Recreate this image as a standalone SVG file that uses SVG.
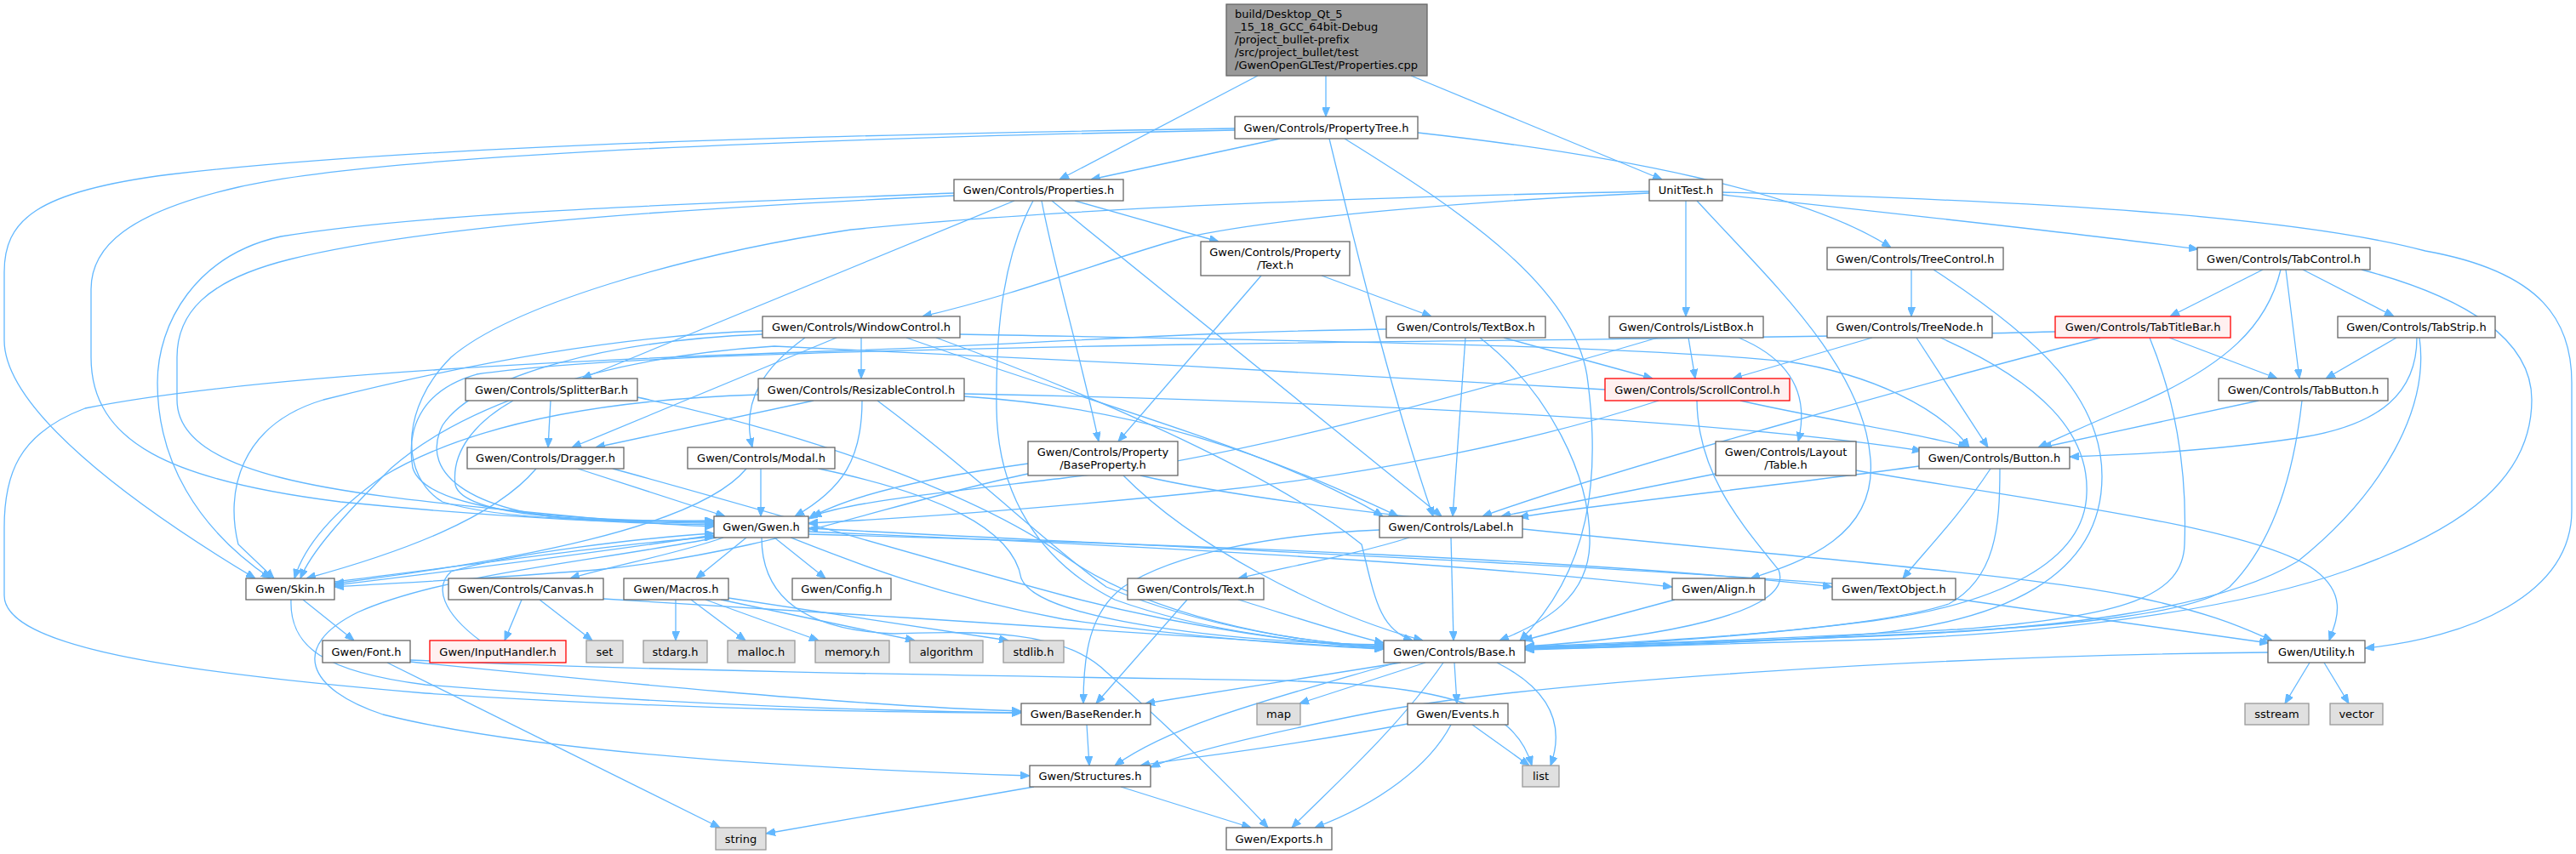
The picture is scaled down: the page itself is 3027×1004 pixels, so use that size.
<svg xmlns="http://www.w3.org/2000/svg" width="3027" height="1004" viewBox="0 0 3027 1004">
<defs>
<marker id="a" viewBox="0 0 11 9" refX="11" refY="4.5" markerWidth="11" markerHeight="9" markerUnits="userSpaceOnUse" orient="auto">
<path d="M0,0 L11,4.5 L0,9 z" fill="#63b8ff" stroke="#63b8ff" stroke-width="1"/>
</marker>
</defs>
<style>
.e path{fill:none;stroke:#63b8ff;stroke-width:1.3;marker-end:url(#a)}
.n rect{fill:#ffffff;stroke:#666666;stroke-width:1.3}
.m rect{fill:#999999;stroke:#666666;stroke-width:1.3}
.r rect{fill:#fff0f0;stroke:#ff0000;stroke-width:1.3}
.s rect{fill:#e0e0e0;stroke:#999999;stroke-width:1.3}
text{font-family:"DejaVu Sans",sans-serif;font-size:13px;fill:#000000;text-anchor:middle}
.m text{text-anchor:start}
</style>
<rect x="0" y="0" width="3027" height="1004" fill="#ffffff"/>
<g id="edges" class="e">
<path d="M1558,89 L1558,137"/>
<path d="M1478,89 L1245,211"/>
<path d="M1658,89 L1953,211"/>
<path d="M1504,163 L1282,211"/>
<path d="M1666,156 C1900,182 2120,225 2222,291"/>
<path d="M1562,163 C1600,320 1640,480 1684,607"/>
<path d="M1580,163 C1720,250 1855,340 1866,450 C1880,560 1870,670 1786,753"/>
<path d="M1451,151 C1000,158 500,170 200,205 C40,225 5,260 5,320 L5,400 C5,480 150,590 300,680"/>
<path d="M1451,153 C1000,162 450,180 280,220 C150,250 107,290 107,340 L107,420 C107,520 200,565 400,590 C600,610 760,616 839,617"/>
<path d="M1121,227 C800,240 500,250 330,278 C230,300 185,380 185,450 C185,540 230,620 318,680"/>
<path d="M1121,230 C800,245 500,265 340,305 C240,330 208,370 208,420 L208,470 C208,560 400,580 600,600 C720,612 800,618 839,619"/>
<path d="M1192,236 L684,445"/>
<path d="M1214,236 C1180,300 1170,380 1171,480 C1172,580 1220,660 1310,705 C1420,745 1560,758 1626,761"/>
<path d="M1224,236 C1240,320 1270,420 1291,519"/>
<path d="M1236,236 L1694,607"/>
<path d="M1263,236 L1432,284"/>
<path d="M1938,225 C1700,230 1300,240 1000,270 C800,300 600,360 530,420 C470,480 470,560 520,590 C600,615 760,612 839,612"/>
<path d="M1938,227 C1750,235 1500,255 1390,280 C1300,305 1200,345 1084,372"/>
<path d="M1981,236 L1981,372"/>
<path d="M1994,236 C2080,330 2190,430 2198,540 C2205,630 2120,660 2057,680"/>
<path d="M2024,229 C2200,248 2450,275 2583,293"/>
<path d="M2024,226 C2400,236 2700,255 2850,295 C2990,320 3022,380 3022,450 L3022,600 C3022,700 2900,750 2779,762"/>
<path d="M1482,324 L1314,519"/>
<path d="M1553,324 L1682,372"/>
<path d="M2246,317 L2246,372"/>
<path d="M2272,317 C2400,400 2470,470 2470,560 C2470,680 2350,730 2200,745 C2000,760 1850,762 1792,763"/>
<path d="M2659,317 L2550,372"/>
<path d="M2680,317 C2665,380 2620,430 2500,480 C2450,500 2420,515 2395,526"/>
<path d="M2686,317 L2702,445"/>
<path d="M2706,317 L2813,372"/>
<path d="M2775,317 C2900,350 2975,400 2975,470 C2975,560 2900,620 2760,670 C2620,720 2400,745 2200,752 C2000,758 1850,762 1792,764"/>
<path d="M896,389 C700,395 500,440 380,470 C280,500 265,580 280,640 L322,680"/>
<path d="M896,393 C720,400 560,440 520,500 C490,560 560,605 700,612 C760,614 800,615 839,615"/>
<path d="M946,397 C900,430 870,470 884,526"/>
<path d="M983,397 L672,526"/>
<path d="M1012,397 L1012,445"/>
<path d="M1065,397 C1300,480 1500,530 1625,607"/>
<path d="M1100,397 C1300,470 1500,560 1600,640 C1615,700 1620,740 1660,753"/>
<path d="M1128,393 C1500,400 1900,405 2100,425 C2200,440 2280,480 2314,526"/>
<path d="M1629,387 C1400,390 1200,405 1000,412 C700,422 300,440 100,480 C20,510 5,560 5,620 L5,700 C5,760 200,790 500,815 C800,835 1100,838 1200,838"/>
<path d="M1722,397 L1707,607"/>
<path d="M1739,397 C1820,460 1870,560 1868,640 C1866,700 1820,730 1762,753"/>
<path d="M1767,397 L1942,445"/>
<path d="M1948,397 C1700,470 1450,540 1250,562 C1100,580 1000,590 954,607"/>
<path d="M1984,397 L1992,445"/>
<path d="M2043,397 C2110,425 2125,470 2113,519"/>
<path d="M2200,397 L2036,445"/>
<path d="M2252,397 L2336,526"/>
<path d="M2280,397 C2400,450 2455,510 2452,580 C2450,660 2350,710 2200,730 C2000,755 1850,760 1792,761"/>
<path d="M2415,390 C2100,398 1700,400 1400,405 C1000,412 700,420 560,440 C490,460 478,510 485,550 C500,600 650,612 839,613"/>
<path d="M2468,397 C2300,440 1900,550 1742,607"/>
<path d="M2526,397 C2560,480 2570,560 2567,640 C2565,700 2500,725 2300,740 C2000,755 1850,760 1792,760"/>
<path d="M2549,397 L2676,445"/>
<path d="M2816,397 L2733,445"/>
<path d="M2840,397 C2840,460 2800,500 2700,515 C2600,530 2500,535 2432,537"/>
<path d="M2843,397 C2855,480 2800,580 2700,660 C2600,720 2400,740 2200,748 C2000,756 1850,761 1792,762"/>
<path d="M2654,471 L2400,526"/>
<path d="M2705,471 C2695,560 2670,640 2620,690 C2580,720 2450,735 2250,745 C2050,755 1850,762 1792,762"/>
<path d="M603,471 C560,495 530,530 535,570 C545,610 700,612 839,614"/>
<path d="M647,471 L644,526"/>
<path d="M749,467 C950,510 1150,580 1260,660 C1350,720 1500,755 1626,760"/>
<path d="M630,551 C580,610 470,650 360,680"/>
<path d="M679,551 L852,607"/>
<path d="M720,551 C900,600 1100,660 1250,700 C1400,740 1550,758 1626,762"/>
<path d="M891,464 C700,470 550,500 450,560 C380,610 355,650 346,680"/>
<path d="M956,471 L700,526"/>
<path d="M1013,471 C1013,540 990,575 934,607"/>
<path d="M1031,471 C1150,560 1230,640 1300,690 C1420,740 1550,757 1626,760"/>
<path d="M1133,463 C1500,470 2000,490 2258,530"/>
<path d="M1133,466 C1350,480 1500,540 1643,607"/>
<path d="M877,551 C820,620 600,660 393,686"/>
<path d="M894,551 L894,607"/>
<path d="M962,551 C1100,580 1190,620 1200,680 C1220,730 1450,755 1626,758"/>
<path d="M1886,458 C1600,440 1200,420 910,407 C700,420 540,480 460,550 C400,610 365,650 353,680"/>
<path d="M1949,471 C1800,520 1600,560 1400,580 C1200,600 1050,610 950,615"/>
<path d="M1994,471 C1995,560 2050,620 2090,670 C2110,720 1950,750 1792,760"/>
<path d="M2045,471 C2150,495 2260,510 2312,526"/>
<path d="M1208,545 C1100,560 1000,580 950,610"/>
<path d="M1208,557 C1050,590 900,650 700,670 C550,682 450,686 393,690"/>
<path d="M1320,559 C1400,640 1550,720 1672,753"/>
<path d="M1340,559 C1600,620 2300,660 2500,700 C2600,720 2640,740 2670,753"/>
<path d="M2016,557 L1764,607"/>
<path d="M2181,553 C2400,590 2650,620 2720,670 C2760,700 2745,730 2737,753"/>
<path d="M2339,551 C2300,610 2260,650 2236,680"/>
<path d="M2350,551 C2350,620 2345,680 2290,710 C2200,740 1950,755 1792,760"/>
<path d="M2255,548 C2100,570 1900,590 1785,608"/>
<path d="M1621,623 C1500,628 1380,650 1320,690 C1280,720 1273,770 1273,827"/>
<path d="M1656,632 C1600,650 1520,665 1455,680"/>
<path d="M1705,632 L1708,753"/>
<path d="M839,629 C700,650 500,675 393,688"/>
<path d="M393,684 C550,665 700,642 839,631"/>
<path d="M850,632 C800,650 720,665 670,680"/>
<path d="M877,632 L818,680"/>
<path d="M910,632 L970,680"/>
<path d="M895,632 C895,690 930,740 1050,745 C1150,742 1250,740 1300,790 C1380,860 1450,930 1490,973"/>
<path d="M929,632 C1000,660 1100,700 1250,728 C1400,750 1550,760 1626,763"/>
<path d="M950,625 C1300,640 1700,660 1965,690"/>
<path d="M950,628 C1400,640 1900,660 2153,690"/>
<path d="M842,632 C700,660 520,675 420,720 C340,760 360,810 450,840 C650,890 1000,905 1210,912"/>
<path d="M342,705 C340,760 380,790 500,805 C800,830 1050,836 1200,838"/>
<path d="M356,705 L416,753"/>
<path d="M613,705 L593,753"/>
<path d="M634,705 L696,753"/>
<path d="M709,704 C1000,720 1400,750 1626,763"/>
<path d="M564,753 C520,720 510,690 530,672 C600,650 760,632 839,627"/>
<path d="M455,779 L846,973"/>
<path d="M482,776 C800,790 1200,795 1500,800 C1700,805 1780,830 1800,900"/>
<path d="M482,778 C700,800 1000,830 1200,836"/>
<path d="M794,705 L794,753"/>
<path d="M812,705 L876,753"/>
<path d="M829,705 L962,753"/>
<path d="M847,705 L1075,753"/>
<path d="M856,703 L1185,753"/>
<path d="M1395,705 L1288,827"/>
<path d="M1455,705 C1520,725 1580,745 1626,756"/>
<path d="M1968,705 L1790,753"/>
<path d="M2153,686 C1800,660 1300,640 950,621"/>
<path d="M2297,704 L2666,756"/>
<path d="M1646,779 L1346,827"/>
<path d="M1675,779 L1527,827"/>
<path d="M1696,779 C1640,860 1560,930 1518,973"/>
<path d="M1709,779 L1712,827"/>
<path d="M1759,779 C1820,810 1840,850 1822,900"/>
<path d="M1641,779 C1500,820 1380,850 1310,900"/>
<path d="M1654,851 C1500,880 1400,890 1340,900"/>
<path d="M1730,852 L1797,900"/>
<path d="M1705,852 C1680,900 1620,945 1545,973"/>
<path d="M2665,767 C2300,770 1800,800 1600,840 C1450,870 1380,890 1352,902"/>
<path d="M2714,779 L2685,827"/>
<path d="M2731,779 L2760,827"/>
<path d="M1277,852 L1280,900"/>
<path d="M1215,925 L900,980"/>
<path d="M1317,925 L1470,973"/>
</g>
<g id="main" class="m"><rect x="1441" y="5" width="236" height="84"/><text x="1451" y="21">build/Desktop_Qt_5</text><text x="1451" y="36">_15_18_GCC_64bit-Debug</text><text x="1451" y="51">/project_bullet-prefix</text><text x="1451" y="66">/src/project_bullet/test</text><text x="1451" y="81">/GwenOpenGLTest/Properties.cpp</text></g>
<g id="ptree" class="n"><rect x="1451" y="137" width="215" height="26"/><text x="1558.5" y="154.5">Gwen/Controls/PropertyTree.h</text></g>
<g id="props" class="n"><rect x="1121" y="211" width="199" height="25"/><text x="1220.5" y="228">Gwen/Controls/Properties.h</text></g>
<g id="unittest" class="n"><rect x="1938" y="211" width="86" height="25"/><text x="1981" y="228">UnitTest.h</text></g>
<g id="ptext" class="n"><rect x="1411" y="284" width="175" height="40"/><text x="1498.5" y="300.5">Gwen/Controls/Property</text><text x="1498.5" y="315.5">/Text.h</text></g>
<g id="treectl" class="n"><rect x="2147" y="291" width="207" height="26"/><text x="2250.5" y="308.5">Gwen/Controls/TreeControl.h</text></g>
<g id="tabctl" class="n"><rect x="2582" y="291" width="203" height="26"/><text x="2683.5" y="308.5">Gwen/Controls/TabControl.h</text></g>
<g id="winctl" class="n"><rect x="896" y="372" width="232" height="25"/><text x="1012" y="389">Gwen/Controls/WindowControl.h</text></g>
<g id="textbox" class="n"><rect x="1629" y="372" width="187" height="25"/><text x="1722.5" y="389">Gwen/Controls/TextBox.h</text></g>
<g id="listbox" class="n"><rect x="1891" y="372" width="181" height="25"/><text x="1981.5" y="389">Gwen/Controls/ListBox.h</text></g>
<g id="treenode" class="n"><rect x="2147" y="372" width="194" height="25"/><text x="2244" y="389">Gwen/Controls/TreeNode.h</text></g>
<g id="tabtitle" class="r"><rect x="2415" y="372" width="206" height="25"/><text x="2518" y="389">Gwen/Controls/TabTitleBar.h</text></g>
<g id="tabstrip" class="n"><rect x="2747" y="372" width="185" height="25"/><text x="2839.5" y="389">Gwen/Controls/TabStrip.h</text></g>
<g id="splitter" class="n"><rect x="547" y="445" width="202" height="26"/><text x="648" y="462.5">Gwen/Controls/SplitterBar.h</text></g>
<g id="resizable" class="n"><rect x="891" y="445" width="242" height="26"/><text x="1012" y="462.5">Gwen/Controls/ResizableControl.h</text></g>
<g id="scroll" class="r"><rect x="1886" y="445" width="217" height="26"/><text x="1994.5" y="462.5">Gwen/Controls/ScrollControl.h</text></g>
<g id="tabbutton" class="n"><rect x="2607" y="445" width="199" height="26"/><text x="2706.5" y="462.5">Gwen/Controls/TabButton.h</text></g>
<g id="baseprop" class="n"><rect x="1208" y="519" width="176" height="40"/><text x="1296" y="535.5">Gwen/Controls/Property</text><text x="1296" y="550.5">/BaseProperty.h</text></g>
<g id="table" class="n"><rect x="2016" y="519" width="165" height="40"/><text x="2098.5" y="535.5">Gwen/Controls/Layout</text><text x="2098.5" y="550.5">/Table.h</text></g>
<g id="modal" class="n"><rect x="808" y="526" width="173" height="25"/><text x="894.5" y="543">Gwen/Controls/Modal.h</text></g>
<g id="dragger" class="n"><rect x="549" y="526" width="184" height="25"/><text x="641" y="543">Gwen/Controls/Dragger.h</text></g>
<g id="button" class="n"><rect x="2255" y="526" width="177" height="25"/><text x="2343.5" y="543">Gwen/Controls/Button.h</text></g>
<g id="gwen" class="n"><rect x="839" y="607" width="111" height="25"/><text x="894.5" y="624">Gwen/Gwen.h</text></g>
<g id="label" class="n"><rect x="1621" y="607" width="168" height="25"/><text x="1705" y="624">Gwen/Controls/Label.h</text></g>
<g id="skin" class="n"><rect x="289" y="680" width="104" height="25"/><text x="341" y="697">Gwen/Skin.h</text></g>
<g id="canvas" class="n"><rect x="527" y="680" width="182" height="25"/><text x="618" y="697">Gwen/Controls/Canvas.h</text></g>
<g id="macros" class="n"><rect x="733" y="680" width="123" height="25"/><text x="794.5" y="697">Gwen/Macros.h</text></g>
<g id="config" class="n"><rect x="931" y="680" width="116" height="25"/><text x="989" y="697">Gwen/Config.h</text></g>
<g id="ctext" class="n"><rect x="1325" y="680" width="160" height="25"/><text x="1405" y="697">Gwen/Controls/Text.h</text></g>
<g id="align" class="n"><rect x="1965" y="680" width="109" height="25"/><text x="2019.5" y="697">Gwen/Align.h</text></g>
<g id="textobj" class="n"><rect x="2153" y="680" width="145" height="25"/><text x="2225.5" y="697">Gwen/TextObject.h</text></g>
<g id="font" class="n"><rect x="379" y="753" width="103" height="26"/><text x="430.5" y="770.5">Gwen/Font.h</text></g>
<g id="inputh" class="r"><rect x="505" y="753" width="160" height="26"/><text x="585" y="770.5">Gwen/InputHandler.h</text></g>
<g id="set" class="s"><rect x="689" y="753" width="43" height="26"/><text x="710.5" y="770.5">set</text></g>
<g id="stdarg" class="s"><rect x="756" y="753" width="75" height="26"/><text x="793.5" y="770.5">stdarg.h</text></g>
<g id="malloc" class="s"><rect x="855" y="753" width="79" height="26"/><text x="894.5" y="770.5">malloc.h</text></g>
<g id="memory" class="s"><rect x="958" y="753" width="87" height="26"/><text x="1001.5" y="770.5">memory.h</text></g>
<g id="algorithm" class="s"><rect x="1069" y="753" width="86" height="26"/><text x="1112" y="770.5">algorithm</text></g>
<g id="stdlib" class="s"><rect x="1179" y="753" width="71" height="26"/><text x="1214.5" y="770.5">stdlib.h</text></g>
<g id="base" class="n"><rect x="1626" y="753" width="166" height="26"/><text x="1709" y="770.5">Gwen/Controls/Base.h</text></g>
<g id="utility" class="n"><rect x="2665" y="753" width="114" height="26"/><text x="2722" y="770.5">Gwen/Utility.h</text></g>
<g id="baserender" class="n"><rect x="1200" y="827" width="152" height="25"/><text x="1276" y="844">Gwen/BaseRender.h</text></g>
<g id="map" class="s"><rect x="1477" y="827" width="51" height="25"/><text x="1502.5" y="844">map</text></g>
<g id="events" class="n"><rect x="1654" y="827" width="118" height="25"/><text x="1713" y="844">Gwen/Events.h</text></g>
<g id="sstream" class="s"><rect x="2638" y="827" width="75" height="25"/><text x="2675.5" y="844">sstream</text></g>
<g id="vector" class="s"><rect x="2738" y="827" width="62" height="25"/><text x="2769" y="844">vector</text></g>
<g id="structures" class="n"><rect x="1210" y="900" width="142" height="25"/><text x="1281" y="917">Gwen/Structures.h</text></g>
<g id="list" class="s"><rect x="1789" y="900" width="43" height="25"/><text x="1810.5" y="917">list</text></g>
<g id="string" class="s"><rect x="841" y="973" width="59" height="26"/><text x="870.5" y="990.5">string</text></g>
<g id="exports" class="n"><rect x="1441" y="973" width="124" height="26"/><text x="1503" y="990.5">Gwen/Exports.h</text></g>
</svg>
